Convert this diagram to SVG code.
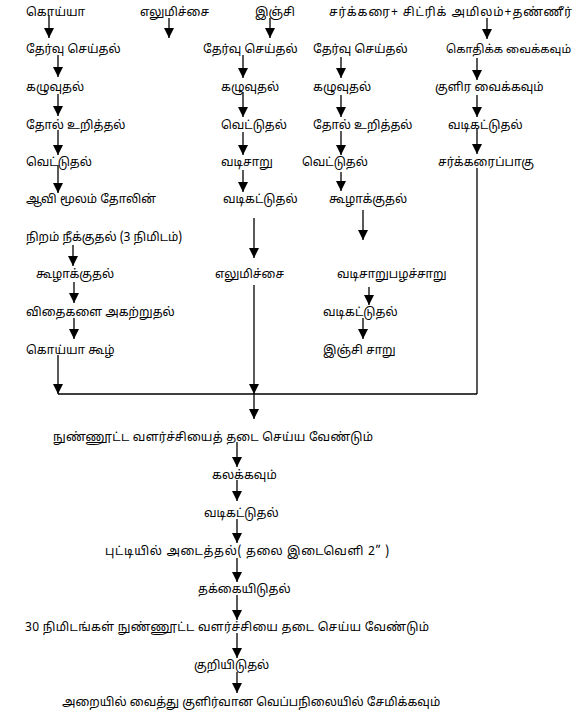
<svg xmlns="http://www.w3.org/2000/svg" width="577" height="712" viewBox="0 0 577 712">
<style>
text{font-family:"Noto Sans Tamil","Lohit Tamil","Latha","Noto Sans","DejaVu Sans",sans-serif;font-size:12px;fill:#000}
.c line{stroke:#000;stroke-width:1.3}
.a{marker-end:url(#ah)}
</style>
<defs>
<marker id="ah" markerUnits="userSpaceOnUse" markerWidth="10" markerHeight="11" refX="10" refY="5" orient="auto" viewBox="0 0 10 10">
<path d="M0,0 L10,5 L0,10 z" fill="#000"/>
</marker>
</defs>
<rect width="577" height="712" fill="#fff"/>
<g id="n1"><text x="26" y="16">கொய்யா</text></g>
<g id="n2"><text x="140" y="16">எலுமிச்சை</text></g>
<g id="n3"><text x="255" y="16">இஞ்சி</text></g>
<g id="n4"><text x="329" y="16" textLength="243">சர்க்கரை+ சிட்ரிக் அமிலம்+தண்ணீர்</text></g>
<g id="n5"><text x="26" y="53">தேர்வு செய்தல்</text></g>
<g id="n6"><text x="203" y="53">தேர்வு செய்தல்</text></g>
<g id="n7"><text x="313" y="53">தேர்வு செய்தல்</text></g>
<g id="n8"><text x="446" y="53" style="font-size:11.3px">கொதிக்க வைக்கவும்</text></g>
<g id="n9"><text x="26" y="91">கழுவுதல்</text></g>
<g id="n10"><text x="221" y="91">கழுவுதல்</text></g>
<g id="n11"><text x="313" y="91">கழுவுதல்</text></g>
<g id="n12"><text x="435" y="91">குளிர வைக்கவும்</text></g>
<g id="n13"><text x="26" y="129">தோல் உறித்தல்</text></g>
<g id="n14"><text x="221" y="129">வெட்டுதல்</text></g>
<g id="n15"><text x="313" y="129">தோல் உறித்தல்</text></g>
<g id="n16"><text x="448" y="129">வடிகட்டுதல்</text></g>
<g id="n17"><text x="26" y="166">வெட்டுதல்</text></g>
<g id="n18"><text x="221" y="166">வடிசாறு</text></g>
<g id="n19"><text x="302" y="166">வெட்டுதல்</text></g>
<g id="n20"><text x="438" y="166">சர்க்கரைப்பாகு</text></g>
<g id="n21"><text x="26" y="203">ஆவி மூலம் தோலின்</text><text x="26" y="241">நிறம் நீக்குதல் (3 நிமிடம்)</text></g>
<g id="n22"><text x="223" y="203">வடிகட்டுதல்</text></g>
<g id="n23"><text x="329" y="203">கூழாக்குதல்</text></g>
<g id="n24"><text x="36" y="278">கூழாக்குதல்</text></g>
<g id="n25"><text x="215" y="278">எலுமிச்சை</text></g>
<g id="n26"><text x="337" y="278">வடிசாறுபழச்சாறு</text></g>
<g id="n27"><text x="26" y="316">விதைகளை அகற்றுதல்</text></g>
<g id="n28"><text x="323" y="316">வடிகட்டுதல்</text></g>
<g id="n29"><text x="26" y="354">கொய்யா கூழ்</text></g>
<g id="n30"><text x="323" y="354">இஞ்சி சாறு</text></g>
<g id="n31"><text x="53" y="441" textLength="320">நுண்ணூட்ட வளர்ச்சியைத் தடை செய்ய வேண்டும்</text></g>
<g id="n32"><text x="212" y="479">கலக்கவும்</text></g>
<g id="n33"><text x="204" y="517">வடிகட்டுதல்</text></g>
<g id="n34"><text x="105" y="555" textLength="284">புட்டியில் அடைத்தல்( தலை இடைவெளி 2” )</text></g>
<g id="n35"><text x="198" y="593">தக்கையிடுதல்</text></g>
<g id="n36"><text x="25" y="631" textLength="404">30 நிமிடங்கள் நுண்ணூட்ட வளர்ச்சியை தடை செய்ய வேண்டும்</text></g>
<g id="n37"><text x="194" y="669">குறியிடுதல்</text></g>
<g id="n38"><text x="62" y="706">அறையில் வைத்து குளிர்வான வெப்பநிலையில் சேமிக்கவும்</text></g>
<g class="c" id="connectors">
<line class="a" x1="49" y1="15" x2="49" y2="38"/>
<line class="a" x1="169" y1="18" x2="169" y2="38"/>
<line class="a" x1="270" y1="18" x2="270" y2="38"/>
<line class="a" x1="487" y1="18" x2="487" y2="39"/>
<line class="a" x1="58" y1="55" x2="58" y2="77"/>
<line class="a" x1="243" y1="55" x2="243" y2="78"/>
<line class="a" x1="341" y1="57" x2="341" y2="78"/>
<line class="a" x1="477" y1="58" x2="477" y2="80"/>
<line class="a" x1="58" y1="94" x2="58" y2="116"/>
<line class="a" x1="243" y1="92" x2="243" y2="117"/>
<line class="a" x1="341" y1="95" x2="341" y2="117"/>
<line class="a" x1="477" y1="95" x2="477" y2="117"/>
<line class="a" x1="58" y1="130" x2="58" y2="155"/>
<line class="a" x1="243" y1="132" x2="243" y2="155"/>
<line class="a" x1="341" y1="131" x2="341" y2="155"/>
<line class="a" x1="477" y1="128" x2="477" y2="154"/>
<line class="a" x1="58" y1="165" x2="58" y2="193"/>
<line class="a" x1="243" y1="170" x2="243" y2="192"/>
<line class="a" x1="341" y1="172" x2="341" y2="191"/>
<line x1="477" y1="168" x2="477" y2="394"/>
<line class="a" x1="254" y1="218" x2="254" y2="258"/>
<line class="a" x1="363" y1="210" x2="363" y2="240"/>
<line class="a" x1="73" y1="245" x2="73" y2="266"/>
<line class="a" x1="74" y1="282" x2="74" y2="303"/>
<line class="a" x1="369" y1="287" x2="369" y2="305"/>
<line class="a" x1="74" y1="318" x2="74" y2="339"/>
<line class="a" x1="363" y1="318" x2="363" y2="339"/>
<line class="a" x1="58" y1="355" x2="58" y2="394"/>
<line class="a" x1="254" y1="285" x2="254" y2="394"/>
<line x1="58" y1="394" x2="477" y2="394"/>
<line class="a" x1="254" y1="394" x2="254" y2="419"/>
<line class="a" x1="237" y1="442" x2="237" y2="467"/>
<line class="a" x1="237" y1="480" x2="237" y2="501"/>
<line class="a" x1="237" y1="519" x2="237" y2="543"/>
<line class="a" x1="237" y1="558" x2="237" y2="582"/>
<line class="a" x1="237" y1="595" x2="237" y2="620"/>
<line class="a" x1="237" y1="633" x2="237" y2="658"/>
<line class="a" x1="237" y1="672" x2="237" y2="693"/>
</g>
</svg>
